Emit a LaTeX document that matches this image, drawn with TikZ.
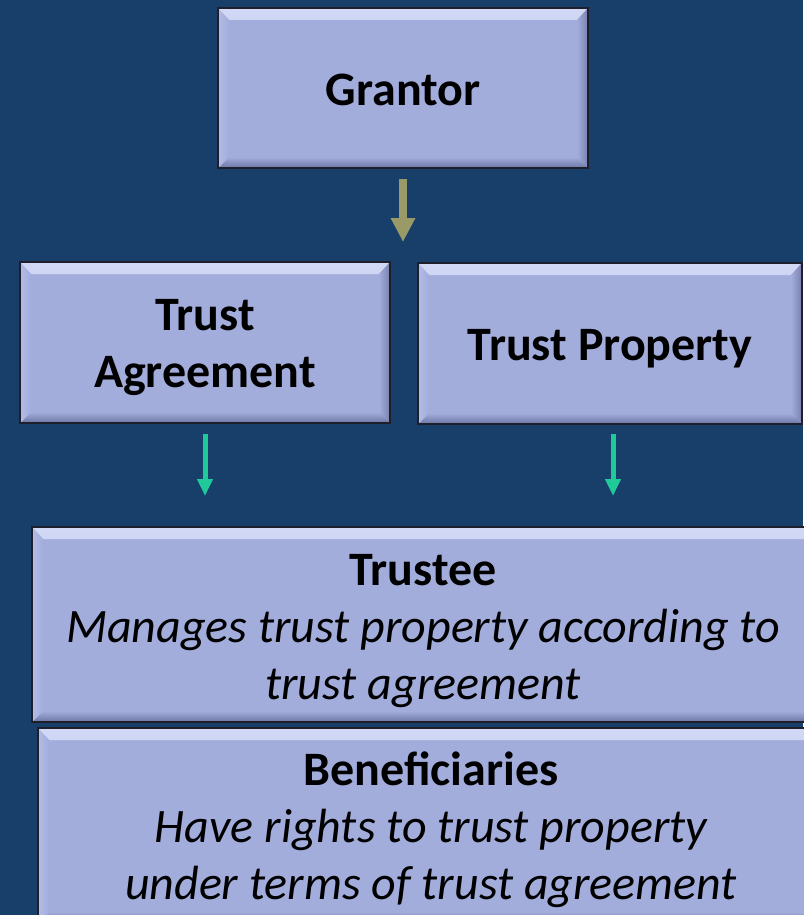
\documentclass[tikz,border=0pt]{standalone}
\usepackage{fontspec}
\setmainfont{Carlito}
\usetikzlibrary{arrows.meta}
\definecolor{bg}{HTML}{183E6A}
\definecolor{boxfill}{HTML}{A2ADDC}
\definecolor{boxline}{HTML}{1E1F2B}
\definecolor{bevhi}{HTML}{D2D9F6}
\definecolor{bevlo}{HTML}{6C76A4}
\definecolor{bevleft}{HTML}{B3BCE6}
\definecolor{bevright}{HTML}{7780AE}
\definecolor{olivearrow}{HTML}{9A9A68}
\definecolor{greenarrow}{HTML}{1FC99A}
\tikzset{
  bevbox/.style={draw=boxline, line width=2pt, fill=boxfill, inner sep=0pt,
    path picture={
      \shade[top color=bevhi, bottom color=boxfill]
        (path picture bounding box.north west) -- (path picture bounding box.north east)
        -- ([shift={(-11pt,-12pt)}]path picture bounding box.north east)
        -- ([shift={(11pt,-12pt)}]path picture bounding box.north west) -- cycle;
      \shade[top color=boxfill, bottom color=bevlo]
        (path picture bounding box.south west) -- (path picture bounding box.south east)
        -- ([shift={(-11pt,11pt)}]path picture bounding box.south east)
        -- ([shift={(11pt,11pt)}]path picture bounding box.south west) -- cycle;
      \shade[left color=bevleft, right color=boxfill]
        (path picture bounding box.north west) -- ([shift={(11pt,-12pt)}]path picture bounding box.north west)
        -- ([shift={(11pt,11pt)}]path picture bounding box.south west)
        -- (path picture bounding box.south west) -- cycle;
      \shade[left color=boxfill, right color=bevright]
        (path picture bounding box.north east) -- ([shift={(-11pt,-12pt)}]path picture bounding box.north east)
        -- ([shift={(-11pt,11pt)}]path picture bounding box.south east)
        -- (path picture bounding box.south east) -- cycle;
    }},
  boxtext/.style={inner sep=0pt, align=center, font=\fontsize{48}{57}\selectfont},
  olivearr/.style={draw=olivearrow, line width=8pt, -{Triangle[width=23pt,length=24pt]}},
  greenarr/.style={draw=greenarrow, line width=5pt, -{Triangle[width=15pt,length=17pt]}}
}
\begin{document}
\begin{tikzpicture}[x=1pt,y=-1pt]
\fill[bg] (0,0) rectangle (803,915);
\useasboundingbox (0,0) rectangle (803,915);
\node[bevbox, minimum width=370pt, minimum height=160pt] (grantor) at (403,88) {};
\node[bevbox, minimum width=370pt, minimum height=161pt] (agree) at (205,342.5) {};
\node[bevbox, minimum width=384pt, minimum height=161pt] (prop) at (610,343.5) {};
\node[bevbox, minimum width=786pt, minimum height=195pt] (trustee) at (425,624.5) {};
\node[bevbox, minimum width=786pt, minimum height=195pt] (benef) at (431,825.5) {};
\node[boxtext, yshift=-2pt] (grantortxt) at (grantor.center) {\bfseries Grantor};
\node[boxtext, yshift=-5pt] (agreetxt) at (agree.center) {\bfseries Trust\\\bfseries Agreement};
\node[boxtext, yshift=-5pt] (proptxt) at (prop.center) {\bfseries Trust Property};
\node[boxtext, yshift=-7pt, xshift=-2pt] (trusteetxt) at (trustee.center) {\bfseries Trustee\\\itshape Manages trust property according to\\\itshape trust agreement};
\node[boxtext, yshift=-4pt] (beneftxt) at (benef.center) {\bfseries Beneficiaries\\\itshape Have rights to trust property\\\itshape under terms of trust agreement};
\coordinate (g1) at ([yshift=-10pt]grantor.south);
\coordinate (g2) at (403,242);
\draw[olivearr] (g1) -- (g2);
\coordinate (a1) at ([yshift=-10pt]agree.south);
\coordinate (a2) at ([yshift=30pt]agree.south |- trustee.north);
\draw[greenarr] (a1) -- (a2);
\coordinate (p1) at ([shift={(3pt,-9pt)}]prop.south);
\coordinate (p2) at ([yshift=30pt]p1 |- trustee.north);
\draw[greenarr] (p1) -- (p2);
\end{tikzpicture}
\end{document}
